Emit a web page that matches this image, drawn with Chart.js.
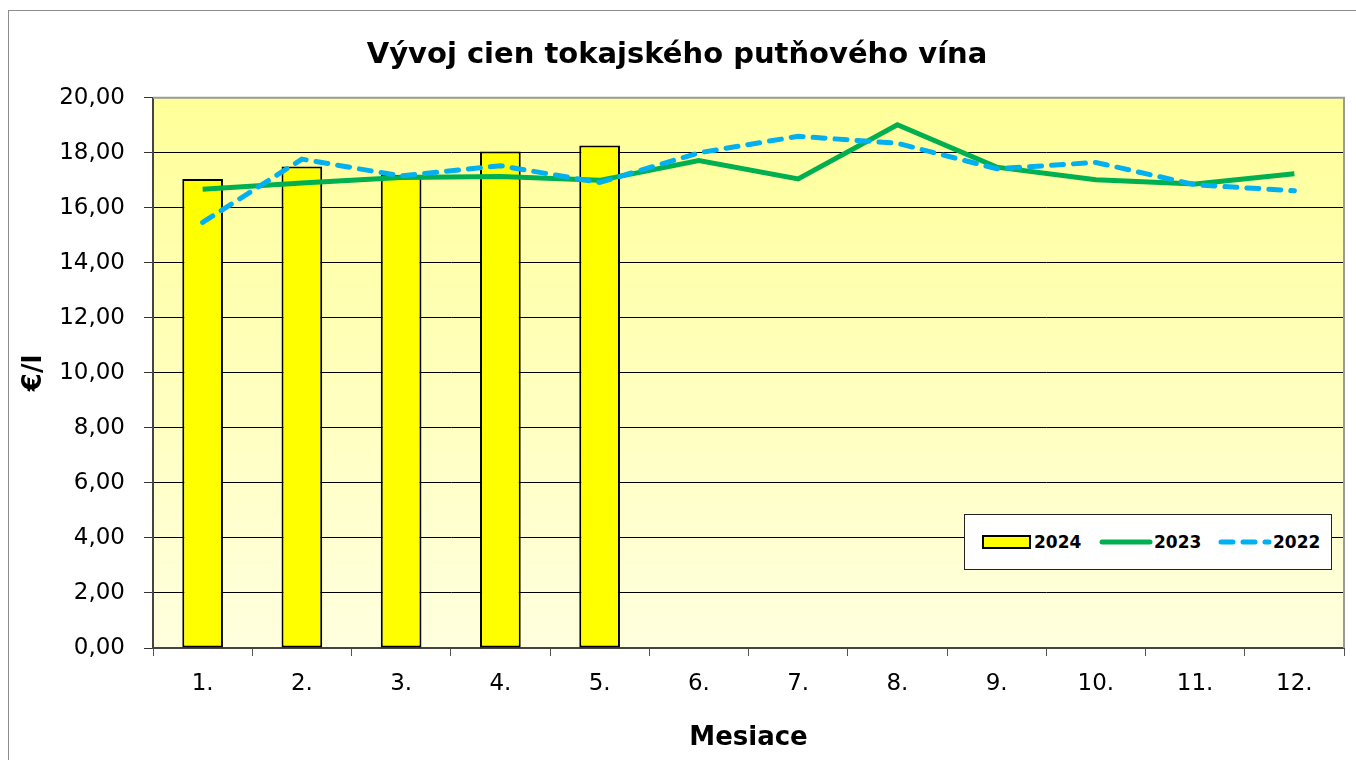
<!DOCTYPE html>
<html lang="sk">
<head>
    <meta charset="UTF-8">
    <title>Vývoj cien tokajského putňového vína</title>
    <script src="https://cdn.jsdelivr.net/npm/chart.js"></script>
    <style>
        body { margin: 0; background: #fff; }
        .wrap { position: relative; width: 1356px; height: 760px; }
        .legend {
            position: absolute; left: 964px; top: 514px; width: 368px; height: 56px;
            box-sizing: border-box; border: 1px solid #222; background: #fff;
            display: flex; align-items: center; padding-left: 17px;
            font: bold 17px "DejaVu Sans", sans-serif; color: #000;
        }
        .legend-item { display: flex; align-items: center; flex: none; }
        .legend-item:nth-child(1) { width: 117px; }
        .legend-item:nth-child(2) { width: 119px; }
        .legend-item svg { flex: none; }
    </style>
</head>
<body>
    <div class="wrap">
        <canvas id="cenyChart"></canvas>
        <div class="legend" id="legenda"></div>
    </div>

    <script>
        const mesiace = ['1.', '2.', '3.', '4.', '5.', '6.', '7.', '8.', '9.', '10.', '11.', '12.'];
        const ceny2024 = [17.05, 17.50, 17.20, 18.05, 18.27];
        const ceny2023 = [16.68, 16.90, 17.10, 17.14, 17.00, 17.72, 17.05, 19.02, 17.48, 17.02, 16.87, 17.24];
        const ceny2022 = [15.47, 17.77, 17.16, 17.53, 16.92, 18.00, 18.60, 18.35, 17.42, 17.65, 16.84, 16.62];
        const yMin = 0, yMax = 20, yKrok = 2;

        Chart.defaults.font.family = '"DejaVu Sans", sans-serif';
        Chart.defaults.color = '#000';

        // pozadie grafu, okraje
        const plotArea = {
            id: 'plotArea',
            beforeDraw(chart) {
                const { ctx, chartArea: a } = chart;
                ctx.save();
                ctx.strokeStyle = '#8c8c8c';
                ctx.lineWidth = 1;
                ctx.strokeRect(8.5, 10.5, chart.width + 50, chart.height + 50);
                const g = ctx.createLinearGradient(0, a.top, 0, a.bottom);
                g.addColorStop(0, '#FFFF99');
                g.addColorStop(1, '#FFFFDF');
                ctx.fillStyle = g;
                ctx.fillRect(a.left, a.top, a.right - a.left, a.bottom - a.top);
                ctx.restore();
            },
            beforeDatasetsDraw(chart) {
                const { ctx, chartArea: a } = chart;
                ctx.save();
                ctx.strokeStyle = '#9a9a9a';
                ctx.lineWidth = 2;
                ctx.beginPath();
                ctx.moveTo(a.left, a.top);
                ctx.lineTo(a.right, a.top);
                ctx.lineTo(a.right, a.bottom);
                ctx.stroke();
                ctx.restore();
            }
        };

        const ctx = document.getElementById('cenyChart').getContext('2d');
        const graf = new Chart(ctx, {
            type: 'bar',
            data: {
                labels: mesiace,
                datasets: [{
                    label: '2024',
                    data: ceny2024,
                    backgroundColor: '#FFFF00',
                    borderColor: '#000',
                    borderWidth: 2,
                    borderSkipped: false,
                    barPercentage: 0.41,
                    categoryPercentage: 1,
                    order: 3
                }, {
                    type: 'line',
                    label: '2023',
                    data: ceny2023,
                    borderColor: '#00B050',
                    borderWidth: 5,
                    pointRadius: 0,
                    tension: 0,
                    fill: false,
                    order: 2
                }, {
                    type: 'line',
                    label: '2022',
                    data: ceny2022,
                    borderColor: '#00B0F0',
                    borderWidth: 5,
                    borderDash: [12, 10],
                    borderCapStyle: 'round',
                    pointRadius: 0,
                    tension: 0,
                    fill: false,
                    order: 1
                }]
            },
            options: {
                responsive: true,
                maintainAspectRatio: false,
                animation: false,
                layout: { padding: { left: 10, right: 12, top: 10, bottom: 0 } },
                plugins: {
                    legend: { display: false },
                    tooltip: { enabled: false },
                    title: {
                        display: true,
                        text: 'Vývoj cien tokajského putňového vína',
                        font: { size: 29, weight: 'bold' },
                        color: '#000',
                        padding: { top: 28, bottom: 25 }
                    }
                },
                scales: {
                    x: {
                        afterFit(scale) { scale.height = 112; },
                        grid: { drawOnChartArea: false, drawTicks: true, tickLength: 8, tickColor: '#555', lineWidth: 1 },
                        border: { color: '#444', width: 2 },
                        ticks: { font: { size: 23 }, padding: 14, maxRotation: 0 },
                        title: {
                            display: true, text: 'Mesiace',
                            font: { size: 26, weight: 'bold' },
                            padding: { top: 0, bottom: 6 }
                        }
                    },
                    y: {
                        min: yMin, max: yMax,
                        afterFit(scale) { scale.width = 143; },
                        grid: { color: '#000', lineWidth: 1, tickLength: 9, tickColor: '#333' },
                        border: { color: '#444', width: 2 },
                        ticks: {
                            stepSize: yKrok,
                            font: { size: 23 },
                            padding: 19,
                            callback: v => v.toFixed(2).replace('.', ',')
                        },
                        title: {
                            display: true, text: '€/l',
                            font: { size: 26, weight: 'bold' },
                            padding: { top: 9, bottom: 0 }
                        }
                    }
                }
            },
            plugins: [plotArea]
        });

        // legenda z datasetov
        const legenda = document.getElementById('legenda');
        [0, 1, 2].forEach(i => {
            const ds = graf.data.datasets[i];
            const item = document.createElement('div');
            item.className = 'legend-item';
            let znak;
            if (ds.type === 'line') {
                const dash = ds.borderDash ? `stroke-dasharray="${ds.borderDash.join(' ')}"` : '';
                znak = `<svg width="55" height="10"><line x1="3" y1="5" x2="51" y2="5" stroke="${ds.borderColor}" stroke-width="5" stroke-linecap="round" ${dash}/></svg>`;
            } else {
                znak = `<svg width="52" height="14"><rect x="1" y="1" width="47" height="12" fill="${ds.backgroundColor}" stroke="#000" stroke-width="2"/></svg>`;
            }
            item.innerHTML = znak + '<span>' + ds.label + '</span>';
            legenda.appendChild(item);
        });
    </script>
</body>
</html>
